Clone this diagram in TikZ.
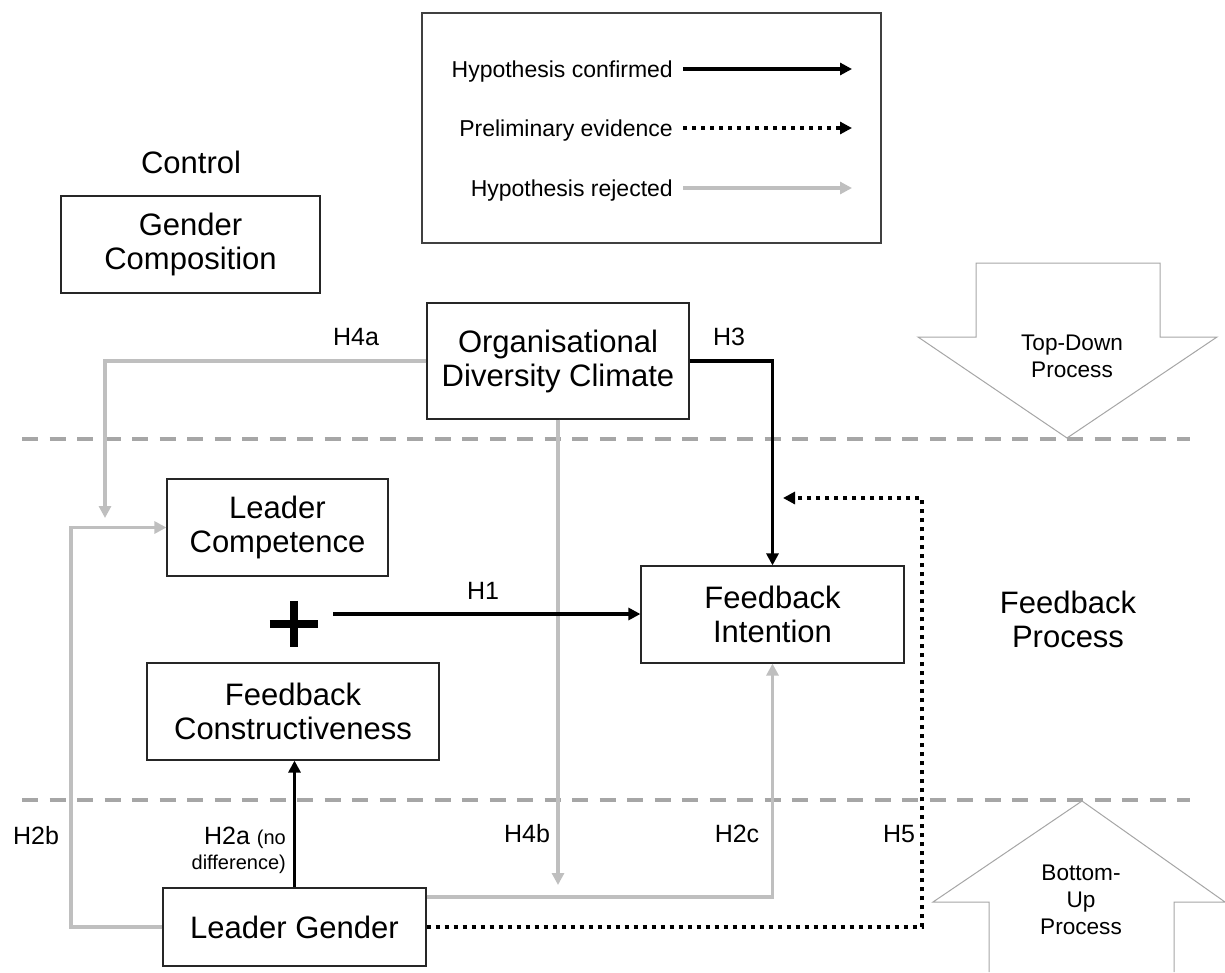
\documentclass[tikz,border=0pt]{standalone}
\usepackage{fontspec}
\setmainfont{Liberation Sans}
\usetikzlibrary{arrows.meta,calc}
\definecolor{rej}{HTML}{BFBFBF}
\definecolor{sep}{HTML}{A6A6A6}
\definecolor{outl}{HTML}{A6A6A6}
\begin{document}
\begin{tikzpicture}[x=1pt,y=-1pt,
 box/.style={draw=black!85,line width=1.2pt,fill=white,align=center,font=\fontsize{31}{34}\selectfont,inner sep=0pt},
 lbl/.style={font=\fontsize{25}{28}\selectfont},
 bigtext/.style={font=\fontsize{31}{34}\selectfont,align=center},
 conf/.style={line width=3.1pt,-{Triangle[length=12pt,width=12pt]}},
 prel/.style={line width=3.8pt,dash pattern=on 4pt off 5pt,-{Triangle[length=12pt,width=12pt]}},
 rejd/.style={line width=3.1pt,draw=rej,-{Triangle[length=12pt,width=12pt]}},
 sepline/.style={draw=sep,line width=4pt,dash pattern=on 16pt off 11.5pt},
 procarrow/.style={draw=outl,line width=1pt,fill=white},
 legtext/.style={font=\fontsize{23}{26}\selectfont,anchor=east,inner sep=0pt},
 proctext/.style={font=\fontsize{22.6}{27}\selectfont,align=center},
]
\useasboundingbox (0,0) rectangle (1225,972);

% separators
\draw[sepline] (22,439) -- (1190,439);
\draw[sepline] (22,800) -- (1190,800);

% process arrows
\draw[procarrow] (976,263) -- (1160,263) -- (1160,337) -- (1217,337) -- (1067,438) -- (918,337) -- (976,337) -- cycle;
\node[proctext] (td) at (1072,356) {Top-Down\\Process};
\fill[white] (989,972) -- (989,902) -- (933,902) -- (1082,801) -- (1225,902) -- (1174,902) -- (1174,972) -- cycle;
\draw[draw=outl,line width=1pt] (989,972) -- (989,902) -- (933,902) -- (1082,801) -- (1225,902) -- (1174,902) -- (1174,972);
\node[proctext] (bu) at (1081,900) {Bottom-\\Up\\Process};

% legend
\node[draw=black!75,line width=1.4pt,minimum width=459pt,minimum height=230pt,inner sep=0pt] (legend) at (651.5,128) {};
\node[legtext] (l1) at (673,72) {Hypothesis confirmed};
\node[legtext] (l2) at (673,131) {Preliminary evidence};
\node[legtext] (l3) at (673,191) {Hypothesis rejected};
\coordinate (l1s) at (683,69); \coordinate (l1e) at (852,69);
\coordinate (l2s) at (683,128); \coordinate (l2e) at (852,128);
\coordinate (l3s) at (683,188); \coordinate (l3e) at (852,188);
\draw[conf,line width=3.6pt] (l1s) -- (l1e);
\draw[prel] (l2s) -- (l2e);
\draw[rejd,line width=3.6pt] (l3s) -- (l3e);

% control
\node[bigtext] (ctrl) at (191,162) {Control};
\node[box,minimum width=259pt,minimum height=97pt] (GC) at (190.5,244.5) {Gender\\Composition};

% boxes
\node[box,minimum width=262pt,minimum height=116pt] (Org) at (558,361) {Organisational\\Diversity Climate};
\node[box,minimum width=221pt,minimum height=97pt] (LC) at (277.5,527.5) {Leader\\Competence};
\node[box,minimum width=263pt,minimum height=97pt] (FI) at (772.5,614.5) {Feedback\\Intention};
\node[box,minimum width=292pt,minimum height=97pt] (FC) at (293,711.5) {Feedback\\Constructiveness};
\node[box,minimum width=263pt,minimum height=78pt] (LG) at (294.5,927) {Leader Gender};

\node[bigtext] (fp) at (1068,619) {Feedback\\Process};

% plus
\node[minimum width=48pt,minimum height=46pt,inner sep=0pt] (plus) at (294,624) {};
\draw[line width=8.5pt] (plus.west) -- (plus.east) (plus.north) -- (plus.south);

% coordinates
\coordinate (h1s) at (333,614);
\coordinate (h4aend) at (105,518);
\coordinate (h4bend) at (558,885);
\coordinate (h2cs) at (426,897);
\coordinate (h2bc) at (71,927);
\coordinate (h5c) at (922,498);
\coordinate (h5end) at (783,498);

% connectors
\draw[rejd] (Org.west) -| (h4aend);
\draw[rejd] (Org.south) -- (h4bend);
\draw[rejd] (LG.east |- h2cs) -| (FI.south);
\draw[rejd] (LG.west) -- (h2bc) |- (LC.west);
\draw[conf] (Org.east) -| (FI.north);
\draw[conf] (h1s) -- (FI.west |- h1s);
\draw[conf] (LG.north) -- (LG.north |- FC.south);
\draw[prel] (LG.east) -| (h5c) -- (h5end);

% labels
\node[lbl] (lh4a) at (356,337) {H4a};
\node[lbl] (lh3) at (729,337) {H3};
\node[lbl] (lh1) at (483,591) {H1};
\node[lbl] (lh2b) at (36,836) {H2b};
\node[lbl,anchor=east,align=right,inner sep=0pt] (lh2a) at (286,850) {H2a {\fontsize{20}{24}\selectfont (no}\\[-3pt]{\fontsize{20}{24}\selectfont difference)}};
\node[lbl] (lh4b) at (527,834) {H4b};
\node[lbl] (lh2c) at (737,834) {H2c};
\node[lbl] (lh5) at (899,834) {H5};
\end{tikzpicture}
\end{document}
